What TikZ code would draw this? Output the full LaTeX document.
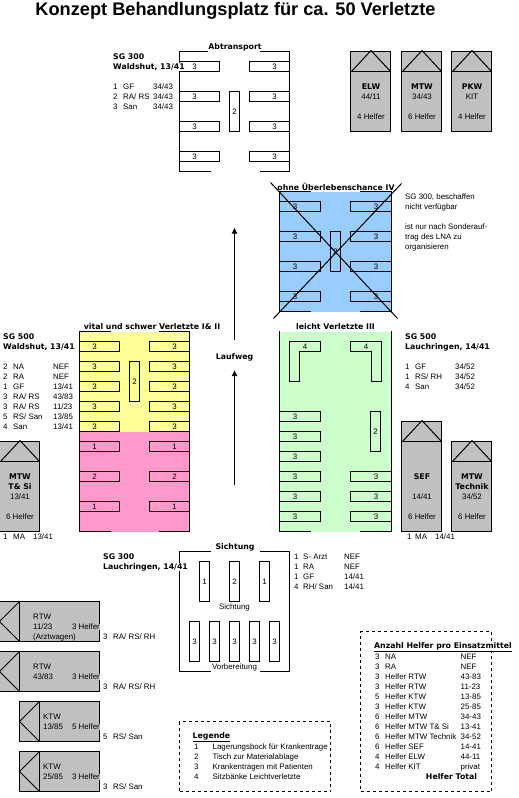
\documentclass[tikz,border=0pt]{standalone}
\usepackage{fontspec}
\setmainfont{Liberation Sans}
\newfontfamily\kopffont{DejaVu Sans}
\usetikzlibrary{arrows.meta}
\definecolor{Grau}{HTML}{C0C0C0}
\definecolor{Blau}{HTML}{99CCFF}
\definecolor{Gelb}{HTML}{FFFF99}
\definecolor{Rosa}{HTML}{FF99CC}
\definecolor{Gruen}{HTML}{CCFFCC}
\tikzset{
    txt/.style={anchor=west, inner sep=0pt, font=\fontsize{7.9}{9}\selectfont},
    mitte/.style={inner sep=0pt, font=\fontsize{7.9}{9}\selectfont},
    kopf/.style={anchor=west, inner sep=0pt, font=\kopffont\bfseries\fontsize{7.8}{9}\selectfont},
    kopfm/.style={kopf, anchor=center},
    wand/.style={line width=1pt, line cap=rect},
    linie/.style={line width=1pt},
    trage/.style={draw, line width=1pt, anchor=north west, minimum width=40pt, minimum height=10pt, inner sep=0pt, outer sep=0pt, font=\fontsize{7.9}{9}\selectfont},
    tragel/.style={trage, execute at end node=\hspace*{10pt}},
    trager/.style={trage, execute at begin node=\hspace*{10pt}},
    tisch/.style={trage, minimum width=10pt, minimum height=40pt},
    fzg/.style={draw, line width=1pt, fill=Grau},
    rahmen/.style={draw, dashed, line width=1pt, anchor=north west, inner sep=0pt, outer sep=0pt},
    weg/.style={-{Latex[length=6pt,width=6pt]}, line width=1pt},
}
\begin{document}
\begin{tikzpicture}[x=1pt, y=-1pt]
    \useasboundingbox (0,0) rectangle (519,798);

    \node[inner sep=0pt, font=\bfseries\fontsize{18.2}{20}\selectfont] (titel) at (235.5,11) {Konzept Behandlungsplatz für ca. 50 Verletzte};

    % Abtransport
    \draw[wand] (207,51.5) -- (179.5,51.5) -- (179.5,171.5) -- (210,171.5);
    \draw[wand] (260,51.5) -- (289.5,51.5) -- (289.5,171.5) -- (260,171.5);
    \foreach \y in {61.5,91.5,121.5,151.5} {
        \node[tragel] (abL\y) at (179.5,\y) {3};
        \node[trager] (abR\y) at (249.5,\y) {3};
    }
    \node[tisch] (abT) at (229.5,91.5) {2};
    \node[kopfm] (abK) at (235,47) {Abtransport};
    \node[kopf] (sgA) at (113,57) {SG 300};
    \node[kopf, fill=white] (sgB) at (113,67) {Waldshut, 13/41};
    \foreach \y/\nr/\fn/\fz [count=\i] in {87/1/GF/{34/43}, 97/2/{RA/ RS}/{34/43}, 107/3/San/{34/43}} {
        \node[txt] (abNr\i) at (113,\y) {\nr};
        \node[txt] (abFn\i) at (123,\y) {\fn};
        \node[txt] (abFz\i) at (153,\y) {\fz};
    }

    % Fahrzeuge hochkant
    \foreach \name/\x/\y/\h in {elw/350.5/51.5/80, mtw/401.5/51.5/80, pkw/451.5/51.5/80, sef/401.5/421.5/110, tec/451.5/441.5/90, tsi/-0.5/441.5/90} {
        \draw[fzg] (\x,\y) rectangle ++(40,\h);
        \draw[linie] (\x,\y+20) -- ++(40,0);
        \draw[linie] (\x+1,\y+20) -- (\x+20.5,\y-1) -- (\x+40,\y+20);
    }
    \foreach \x/\a/\b/\c [count=\i] in {371/ELW/{44/11}/4 Helfer, 422/MTW/{34/43}/6 Helfer, 472/PKW/KIT/4 Helfer} {
        \node[kopfm] (obA\i) at (\x,87) {\a};
        \node[mitte] (obB\i) at (\x,97) {\b};
        \node[mitte] (obC\i) at (\x,117) {\c};
    }
    \foreach \x/\a/\b/\c [count=\i] in {422/SEF/{14/41}/6 Helfer, 472/MTW/{34/52}/6 Helfer, 20/MTW/{13/41}/6 Helfer} {
        \node[kopfm] (unA\i) at (\x,477) {\a};
        \node[mitte] (unB\i) at (\x,497) {\b};
        \node[mitte] (unC\i) at (\x,517) {\c};
    }
    \node[kopfm] (unD2) at (472,487) {Technik};
    \node[kopfm] (unD3) at (20,487) {T\& Si};

    % ohne Ueberlebenschance
    \fill[Blau] (279.5,191.5) rectangle (391.5,311.5);
    \draw[wand] (310,191.5) -- (279.5,191.5) -- (279.5,311.5) -- (310,311.5);
    \draw[wand] (360,191.5) -- (391.5,191.5) -- (391.5,311.5) -- (360,311.5);
    \foreach \y in {201.5,231.5,261.5,291.5} {
        \node[tragel, minimum width=41pt] (blL\y) at (279.5,\y) {3};
        \node[trager, minimum width=41pt] (blR\y) at (350.5,\y) {3};
    }
    \node[tisch] (blT) at (330.5,231.5) {2};
    \node[kopfm] (blK) at (336,187) {ohne Überlebenschance IV};
    \coordinate (kreuzA) at (270.5,182.5);
    \coordinate (kreuzB) at (397.5,318.5);
    \coordinate (kreuzC) at (401.5,183.5);
    \coordinate (kreuzD) at (273.5,318.5);
    \draw[linie] (kreuzA) -- (kreuzB);
    \draw[linie] (kreuzC) -- (kreuzD);
    \foreach \y/\t [count=\i] in {197/{SG 300, beschaffen}, 207/nicht verfügbar, 227/ist nur nach Sonderauf-, 237/trag des LNA zu, 247/organisieren} {
        \node[txt] (blTx\i) at (405,\y) {\t};
    }

    % vital und schwer
    \fill[Gelb] (79.5,331.5) rectangle (189.5,431.5);
    \fill[Rosa] (79.5,431.5) rectangle (189.5,531.5);
    \draw[wand] (110,331.5) -- (79.5,331.5) -- (79.5,531.5) -- (110,531.5);
    \draw[wand] (159,331.5) -- (189.5,331.5) -- (189.5,531.5) -- (159,531.5);
    \foreach \y/\n in {341.5/3,361.5/3,381.5/3,401.5/3,421.5/3,441.5/1,471.5/2,501.5/1} {
        \node[tragel] (viL\y) at (79.5,\y) {\n};
        \node[trager] (viR\y) at (149.5,\y) {\n};
    }
    \node[tisch] (viT) at (129.5,361.5) {2};
    \node[kopfm] (viK) at (152,327) {vital und schwer Verletzte I\& II};
    \node[kopf] (sgC) at (3,337) {SG 500};
    \node[kopf] (sgD) at (3,347) {Waldshut, 13/41};
    \foreach \y/\nr/\fn/\fz [count=\i] in {367/2/NA/NEF, 377/2/RA/NEF, 387/1/GF/{13/41}, 397/3/{RA/ RS}/{43/83}, 407/3/{RA/ RS}/{11/23}, 417/5/{RS/ San}/{13/85}, 427/4/San/{13/41}} {
        \node[txt] (viNr\i) at (3,\y) {\nr};
        \node[txt] (viFn\i) at (13,\y) {\fn};
        \node[txt] (viFz\i) at (53,\y) {\fz};
    }
    \node[txt] (maA) at (3,537) {1};
    \node[txt] (maB) at (13,537) {MA};
    \node[txt] (maC) at (33,537) {13/41};

    % Laufweg
    \coordinate (wegA) at (234.5,485);
    \coordinate (wegB) at (234.5,370);
    \coordinate (wegC) at (234.5,340);
    \coordinate (wegD) at (234.5,227.5);
    \draw[weg] (wegA) -- (wegB);
    \draw[weg] (wegC) -- (wegD);
    \node[kopfm] (lauf) at (234.5,357) {Laufweg};

    % leicht Verletzte
    \fill[Gruen] (279.5,331.5) rectangle (391.5,531.5);
    \draw[wand] (279.5,331.5) -- (279.5,531.5) -- (310,531.5);
    \draw[wand] (391.5,331.5) -- (391.5,531.5) -- (360,531.5);
    \draw[linie] (289.5,341.5) -- (320.5,341.5) -- (320.5,351.5) -- (299.5,351.5) -- (299.5,381.5) -- (289.5,381.5) -- cycle;
    \draw[linie] (350.5,341.5) -- (381.5,341.5) -- (381.5,381.5) -- (371.5,381.5) -- (371.5,351.5) -- (350.5,351.5) -- cycle;
    \node[mitte] (baL) at (305,346.5) {4};
    \node[mitte] (baR) at (366,346.5) {4};
    \foreach \y in {411.5,431.5,451.5,471.5,491.5,511.5} {
        \node[tragel, minimum width=41pt] (leL\y) at (279.5,\y) {3};
    }
    \foreach \y in {471.5,491.5,511.5} {
        \node[trager, minimum width=41pt] (leR\y) at (350.5,\y) {3};
    }
    \node[tisch] (leT) at (370.5,411.5) {2};
    \node[kopfm] (leK) at (335.5,327) {leicht Verletzte III};
    \node[kopf] (sgE) at (405,337) {SG 500};
    \node[kopf] (sgF) at (405,347) {Lauchringen, 14/41};
    \foreach \y/\nr/\fn/\fz [count=\i] in {367/1/GF/{34/52}, 377/1/{RS/ RH}/{34/52}, 387/4/San/{34/52}} {
        \node[txt] (leNr\i) at (405,\y) {\nr};
        \node[txt] (leFn\i) at (415,\y) {\fn};
        \node[txt] (leFz\i) at (455,\y) {\fz};
    }
    \node[txt] (maD) at (407,537) {1};
    \node[txt] (maE) at (415,537) {MA};
    \node[txt] (maF) at (435,537) {14/41};

    % Sichtung
    \draw[wand] (210,551.5) -- (179.5,551.5) -- (179.5,671.5) -- (210,671.5);
    \draw[wand] (260,551.5) -- (289.5,551.5) -- (289.5,671.5) -- (260,671.5);
    \foreach \x/\n in {199.5/1,229.5/2,259.5/1} {
        \node[tisch] (siO\x) at (\x,561.5) {\n};
    }
    \foreach \x in {189.5,209.5,229.5,249.5,269.5} {
        \node[tisch] (siU\x) at (\x,621.5) {3};
    }
    \node[kopfm] (siK) at (235,547) {Sichtung};
    \node[mitte] (siA) at (234.5,607) {Sichtung};
    \node[mitte] (siB) at (234.5,667) {Vorbereitung};
    \node[kopf] (sgG) at (103,557) {SG 300};
    \node[kopf, fill=white] (sgH) at (103,567) {Lauchringen, 14/41};
    \foreach \y/\nr/\fn/\fz [count=\i] in {557/1/S- Arzt/NEF, 567/1/RA/NEF, 577/1/GF/{14/41}, 587/4/{RH/ San}/{14/41}} {
        \node[txt] (siNr\i) at (294,\y) {\nr};
        \node[txt] (siFn\i) at (303,\y) {\fn};
        \node[txt] (siFz\i) at (344,\y) {\fz};
    }

    % Fahrzeuge quer
    \foreach \d/\y in {19.5/601.5, 19.5/651.5, 39.5/701.5, 39.5/751.5} {
        \draw[fzg] (\d-20,\y) rectangle (99.5,\y+40);
        \draw[linie] (\d,\y-0.5) -- (\d,\y+40.5);
        \draw[linie] (\d,\y) -- (\d-20,\y+20) -- (\d,\y+40);
    }
    \foreach \x/\y/\a/\b/\h [count=\i] in {33/617/RTW/{11/23}/3, 33/667/RTW/{43/83}/3, 43/717/KTW/{13/85}/5, 43/767/KTW/{25/85}/3} {
        \node[txt] (quA\i) at (\x,\y) {\a};
        \node[txt] (quB\i) at (\x,\y+10) {\b};
        \node[txt, anchor=east, fill=Grau] (quC\i) at (100,\y+10) {\h{} Helfer};
    }
    \node[txt] (quD) at (33,637) {(Arztwagen)};
    \foreach \y/\nr/\t [count=\i] in {637/3/{RA/ RS/ RH}, 687/3/{RA/ RS/ RH}, 737/5/{RS/ San}, 787/3/{RS/ San}} {
        \node[txt] (quNr\i) at (103,\y) {\nr};
        \node[txt] (quTx\i) at (113,\y) {\t};
    }

    % Legende
    \node[rahmen, minimum width=151pt, minimum height=70pt] (leg) at (179.5,721.5) {};
    \node[kopf] (legK) at (192.5,737) {\underline{Legende}};
    \foreach \y/\nr/\t [count=\i] in {747/1/Lagerungsbock für Krankentrage, 757/2/Tisch zur Materialablage, 767/3/Krankentragen mit Patienten, 777/4/Sitzbänke Leichtverletzte} {
        \node[txt] (legNr\i) at (194,\y) {\nr};
        \node[txt] (legTx\i) at (212.5,\y) {\t};
    }

    % Anzahl Helfer
    \node[rahmen, minimum width=131pt, minimum height=160pt] (anz) at (360.5,631.5) {};
    \node[kopf, fill=white] (anzK) at (374,647) {\underline{Anzahl Helfer pro Einsatzmittel}};
    \foreach \y/\nr/\t/\fz [count=\i] in {657/3/NA/NEF, 667/3/RA/NEF, 677/3/Helfer RTW/43-83, 687/3/Helfer RTW/11-23, 697/5/Helfer KTW/13-85, 707/3/Helfer KTW/25-85, 717/6/Helfer MTW/34-43, 727/6/Helfer MTW T\& Si/13-41, 737/6/Helfer MTW Technik/34-52, 747/6/Helfer SEF/14-41, 757/4/Helfer ELW/44-11, 767/4/Helfer KIT/privat} {
        \node[txt] (anzNr\i) at (375,\y) {\nr};
        \node[txt] (anzTx\i) at (385,\y) {\t};
        \node[txt] (anzFz\i) at (460.5,\y) {\fz};
    }
    \node[kopfm] (anzT) at (451.5,777) {Helfer Total};
\end{tikzpicture}
\end{document}
